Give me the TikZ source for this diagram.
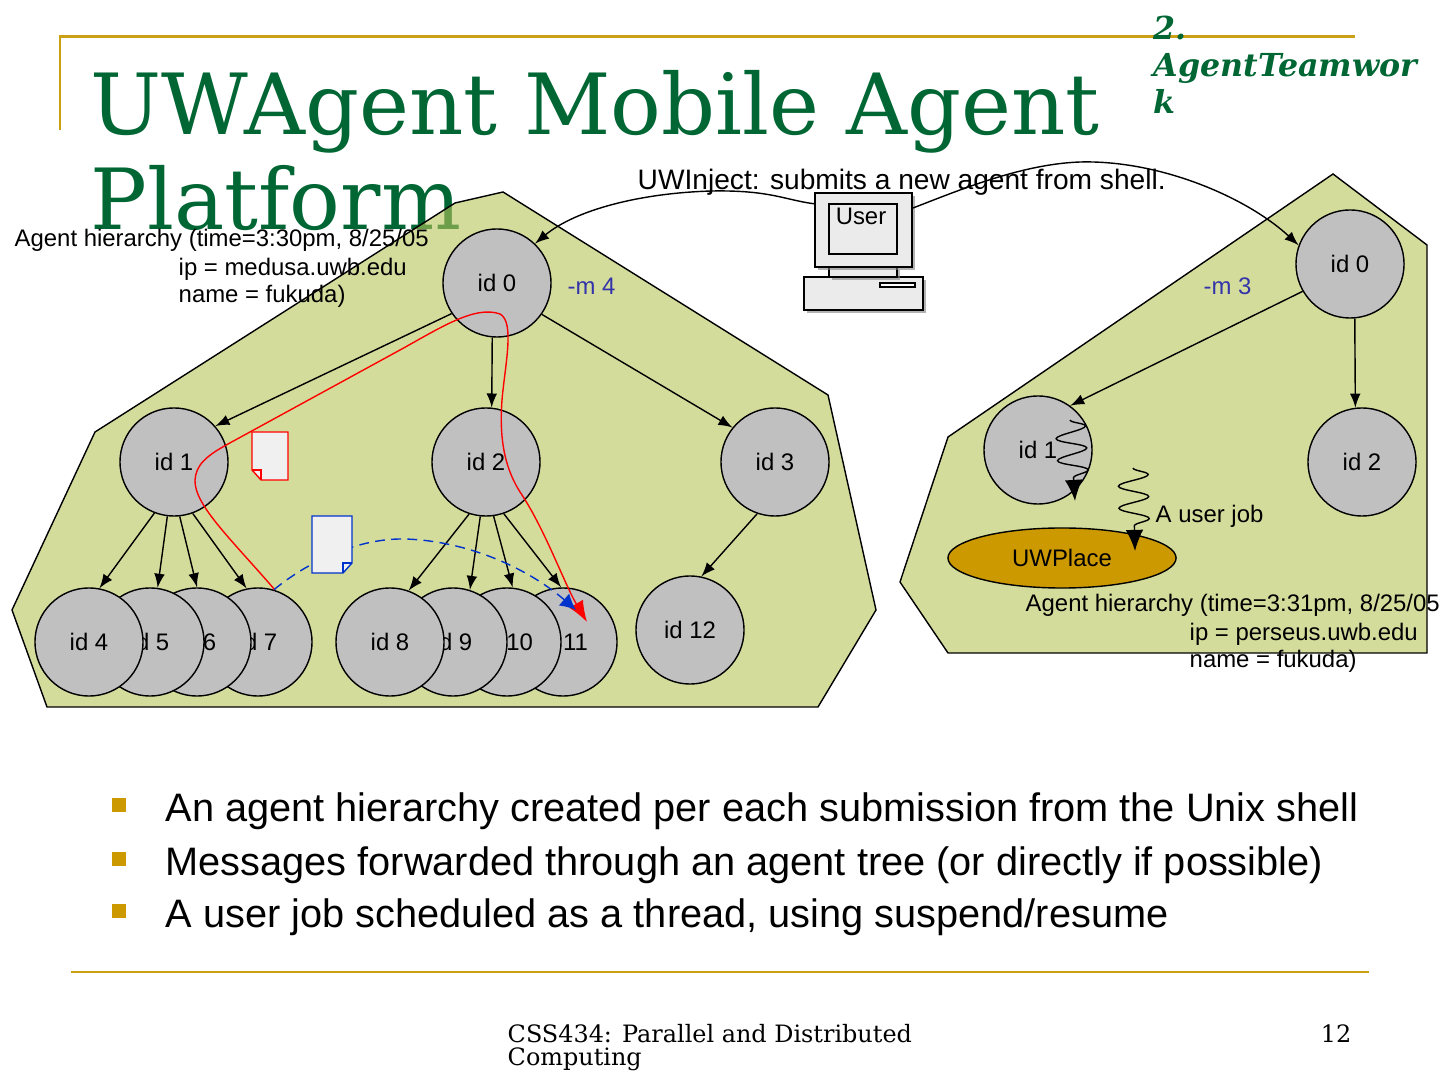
\documentclass[tikz,border=0pt]{standalone}
\usepackage{fontspec}
\setmainfont{Liberation Sans}
\newfontfamily\slidefont{DejaVu Serif}
\usetikzlibrary{arrows.meta,decorations.pathmorphing,shapes.geometric,shadows}

\definecolor{titlegreen}{RGB}{0,102,51}
\definecolor{rulegold}{RGB}{204,160,20}
\definecolor{bulletgold}{RGB}{204,153,0}
\definecolor{platefill}{RGB}{183,197,90}
\definecolor{nodegray}{RGB}{192,192,192}
\definecolor{placegold}{RGB}{204,153,0}
\definecolor{optblue}{RGB}{51,51,170}
\definecolor{msgblue}{RGB}{0,51,204}
\definecolor{docfill}{RGB}{240,240,240}
\definecolor{pcgray}{RGB}{235,235,235}

\newcommand{\diagfont}{\fontsize{6.8}{8}\selectfont}
\newcommand{\bulletsize}{\fontsize{11.3}{13}\selectfont}
\newcommand{\pagefootfont}{\slidefont\fontsize{6.8}{8}\selectfont}

\begin{document}
\begin{tikzpicture}[x=0.01cm,y=-0.01cm,
	agent/.style={draw,circle,fill=nodegray,minimum size=1.08cm,inner sep=0pt,font=\diagfont},
	txt/.style={inner sep=0pt,font=\diagfont,anchor=base west},
	pc/.style={draw,fill=pcgray,inner sep=0pt,drop shadow={shadow xshift=0.3mm,shadow yshift=-0.3mm,opacity=0.6}},
	thread/.style={decorate,decoration={snake,amplitude=0.15cm,segment length=0.22cm,post length=0.2cm},-{Latex[length=6pt,width=5pt]}}]
	\useasboundingbox (0,0) rectangle (1440,1080);

	% slide frame and heading
	\draw[rulegold,line width=0.85pt] (60,130) -- (60,37) -- (1355,37);
	\draw[rulegold,line width=0.85pt] (71,972) -- (1369,972);
	\node[anchor=base west,inner sep=0pt,text=titlegreen,font=\slidefont\fontsize{24}{27}\selectfont] (title) at (90,135) {UWAgent Mobile Agent};
	\node[anchor=base west,inner sep=0pt,text=titlegreen,font=\slidefont\fontsize{24}{27}\selectfont] (title2) at (90,230) {Platform};
	\foreach \y/\t [count=\k] in {40/2.,77/AgentTeamwor,114/k}{
		\node[anchor=base west,inner sep=0pt,text=titlegreen,font=\slidefont\bfseries\itshape\fontsize{9}{10.5}\selectfont] (part\k) at (1153,\y) {\t};
	}

	% the two hosts
	\filldraw[fill=platefill,fill opacity=0.6] (503,192) -- (455,203) -- (95,432) -- (12,610) -- (47,707)
		-- (818,707) -- (876,610) -- (828,395) -- cycle;
	\filldraw[fill=platefill,fill opacity=0.6] (1333,174) -- (1427,245) -- (1427,653) -- (948,653)
		-- (900,582) -- (948,437) -- cycle;

	% user terminal
	\node[pc,minimum width=1.19cm,minimum height=0.33cm] (tower) at (863.5,293.5) {};
	\filldraw[fill=white] (880,283) rectangle (915,287);
	\node[pc,minimum width=0.68cm,minimum height=0.1cm] (neck) at (863,272) {};
	\node[pc,minimum width=0.97cm,minimum height=0.74cm] (monitor) at (863.5,230) {};
	\node[draw,line width=0.7pt,fill=pcgray,inner sep=0pt,minimum width=0.68cm,minimum height=0.5cm] (screen) at (863,229) {};
	\node[inner sep=0pt,font=\diagfont,anchor=base] (user) at (861,225) {User};

	\node[anchor=base west,inner sep=0pt,font=\fontsize{8}{9.5}\selectfont] (inject) at (637,190) {UWInject: submits a new agent from shell.};

	% left hierarchy
	\node[agent] (l0) at (497,283) {id 0};
	\foreach \n/\x in {1/174,2/486,3/775}{
		\node[agent] (l\n) at (\x,462) {id \n};
	}
	\foreach \n/\x in {7/258,6/197,5/150,4/89,11/563,10/507,9/453,8/390}{% back ones first
		\node[agent] (l\n) at (\x,642) {id \n};
	}
	\node[agent] (l12) at (690,630) {id 12};
	\foreach \s/\a/\t/\b in {0/214/1/41,0/265/2/84,0/325/3/141,1/249/4/79,1/263/5/82,1/276/6/90,
		1/290/7/102,2/252/8/70,2/264/9/72,2/278/10/84,2/289/11/92,3/251/12/78}{
		\draw[-latex] (l\s.\a) -- (l\t.\b);
	}

	% right hierarchy
	\node[agent] (r0) at (1350,264) {id 0};
	\node[agent] (r1) at (1038,450) {id 1};
	\node[agent] (r2) at (1362,462) {id 2};
	\draw[-latex] (r0.210) -- (r1.54);
	\draw[-latex] (r0.275) -- (r2.97);
	\node[draw,ellipse,fill=placegold,minimum width=2.28cm,minimum height=0.6cm,inner sep=0pt,font=\diagfont] (place) at (1062,558) {UWPlace};

	% injection from the shell
	\draw[-latex] (monitor.152) .. controls (785,200) and (770,190) .. (712,191)
		.. controls (640,193) and (575,210) .. (l0.46);
	\draw[-latex] (monitor.24) .. controls (960,190) and (1030,160) .. (1093,162)
		.. controls (1170,164) and (1250,200) .. (r0.160);

	\node[txt,text=optblue] (opt4) at (567,295) {-m 4};
	\node[txt,text=optblue] (opt3) at (1203,295) {-m 3};

	% host labels
	\node[txt] (lhost) at (14,247) {Agent hierarchy (time=3:30pm, 8/25/05};
	\node[txt] (lip) at (178,276) {ip = medusa.uwb.edu};
	\node[txt] (lname) at (178,303) {name = fukuda)};
	\node[txt] (rhost) at (1025,612) {Agent hierarchy (time=3:31pm, 8/25/05};
	\node[txt] (rip) at (1189,641) {ip = perseus.uwb.edu};
	\node[txt] (rname) at (1189,668) {name = fukuda)};

	% user job threads
	\coordinate (job1) at (1070,420);
	\coordinate (job1end) at (1075,501);
	\draw[thread] (job1) -- (job1end);
	\coordinate (job2) at (1133,468);
	\coordinate (job2end) at (1135,551);
	\draw[thread] (job2) -- (job2end);
	\node[txt] (job) at (1155,523) {A user job};

	% messages
	\coordinate (hit) at (587,622);
	\coordinate (hit2) at (576,610);
	\draw[red,-{Latex[length=6pt,width=4.5pt]}] (l7.72) .. controls (232,540) and (194,505) .. (195,480)
		.. controls (196,465) and (206,456) .. (228,444) -- (400,350)
		.. controls (440,328) and (475,305) .. (500,314)
		.. controls (515,322) and (505,365) .. (502,400)
		.. controls (499,440) and (505,470) .. (522,495)
		.. controls (545,530) and (565,585) .. (hit);
	\draw[msgblue,dash pattern=on 2.8pt off 1.8pt,-{Latex[length=4.5pt,width=4.5pt]}] (l7.73)
		.. controls (310,560) and (360,538) .. (405,539)
		.. controls (470,541) and (530,570) .. (hit2);
	\filldraw[red,fill=docfill] (252,432) -- (288,432) -- (288,480) -- (261,480) -- (252,470) -- cycle;
	\draw[red] (252,470) -- (261,470) -- (261,480);
	\filldraw[msgblue,fill=docfill] (312,516) -- (352,516) -- (352,563) -- (343,573) -- (312,573) -- cycle;
	\draw[msgblue] (352,563) -- (343,563) -- (343,573);

	% bullets
	\foreach \y/\t [count=\k] in {821/{An agent hierarchy created per each submission from the Unix shell},
		875/{Messages forwarded through an agent tree (or directly if possible)},
		927/{A user job scheduled as a thread, using suspend/resume}}{
		\fill[bulletgold] (112,\y-23) rectangle ++(14,14);
		\node[anchor=base west,inner sep=0pt,font=\bulletsize] (item\k) at (165,\y) {\t};
	}

	% footer
	\node[anchor=base west,inner sep=0pt,font=\pagefootfont] (course) at (507,1042) {CSS434: Parallel and Distributed};
	\node[anchor=base west,inner sep=0pt,font=\pagefootfont] (course2) at (507,1065) {Computing};
	\node[anchor=base east,inner sep=0pt,font=\pagefootfont] (page) at (1352,1042) {12};
\end{tikzpicture}
\end{document}
